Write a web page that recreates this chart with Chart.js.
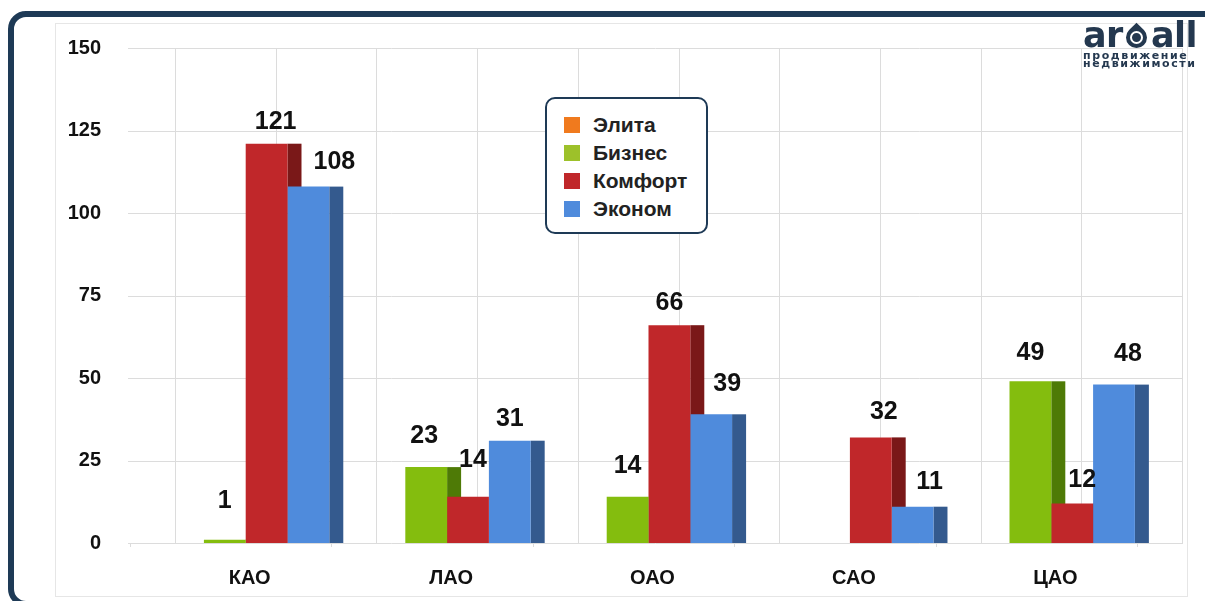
<!DOCTYPE html>
<html>
<head>
<meta charset="utf-8">
<script src="https://cdn.jsdelivr.net/npm/chart.js@4.4.1/dist/chart.umd.min.js"></script>
<style>
  html, body { margin: 0; padding: 0; background: #fff; }
  #wrap { position: relative; width: 1205px; height: 601px; overflow: hidden; background: #fff; }
  #frame { position: absolute; left: 8px; top: 11px; width: 1260px; height: 584px; border: 6px solid #1e3a56; border-radius: 18px; }
  #panel { position: absolute; left: 55px; top: 23px; width: 1131px; height: 572px; border: 1px solid #e6e6e6; }
  #chart { position: absolute; left: 0; top: 0; }
  #legend { position: absolute; left: 545px; top: 97px; width: 159px; height: 121px; border: 2.5px solid #1e3a56; border-radius: 10px; background: #fff; padding-top: 12px; box-sizing: content-box; }
  #legend .row { display: flex; align-items: center; height: 28px; font: bold 21px "Liberation Sans", Arial, sans-serif; color: #222; }
  #legend .sw { width: 16px; height: 16px; margin-left: 17px; margin-right: 13px; }
  #logo { position: absolute; left: 1083px; top: 18px; color: #24384f; font-family: "DejaVu Sans", sans-serif; }
  #logo .big { font-weight: bold; font-size: 35px; letter-spacing: -0.5px; line-height: 34px; white-space: nowrap; }
  #logo .drop { display: inline-block; width: 21px; height: 21px; background: #24384f; border-radius: 0 50% 50% 50%; transform: rotate(45deg); margin: 0 4px 0 3px; position: relative; top: 1px; }
  #logo .drop::after { content: ""; position: absolute; left: 4px; top: 4px; width: 9px; height: 9px; border: 2px solid #fff; border-radius: 50%; }
  #logo .small { font-weight: bold; font-size: 11px; line-height: 8px; letter-spacing: 1.6px; white-space: nowrap; }
</style>
</head>
<body>
<div id="wrap">
  <div id="frame"></div>
  <div id="panel"></div>
  <canvas id="chart" width="1205" height="601"></canvas>
  <div id="legend"></div>
  <div id="logo">
    <div class="big">ar<span class="drop"></span>all</div>
    <div class="small">продвижение</div>
    <div class="small">недвижимости</div>
  </div>
</div>
<script>
const categories = ["КАО", "ЛАО", "ОАО", "САО", "ЦАО"];
const seriesNames = ["Элита", "Бизнес", "Комфорт", "Эконом"];
const seriesColors = ["#f07a1e", "#84bd0e", "#c0272a", "#4f8bdc"];
const sideColors = ["#a84f10", "#4e7a06", "#7a1818", "#345a8e"];
const legendColors = ["#f07a1e", "#9dc12a", "#c0272a", "#4f8bdc"];
const eliteValues = [0, 0, 0, 0, 0];
const businessValues = [1, 23, 14, 0, 49];
const comfortValues = [121, 14, 66, 32, 12];
const economyValues = [108, 31, 39, 11, 48];
const yTicks = [0, 25, 50, 75, 100, 125, 150];

const seriesValues = [eliteValues, businessValues, comfortValues, economyValues];
const DEPTH = 14;
const WALL = 30;

// hand-placed value labels (x nudge / gap above bar, px), as in the original
const labelDx = [
  [0, 0, 0, 0, 0],
  [0, -2, 0, 0, 0],
  [9, 5, 0, 13, 10],
  [26, 0, 16, 17, 14],
];
const labelGap = [
  [0, 0, 0, 0, 0],
  [32, 24, 24, 0, 21],
  [15, 30, 15, 18, 16],
  [18, 15, 23, 18, 24],
];

// legend box
const legendBox = document.querySelector("#legend");
seriesNames.forEach((name, i) => {
  const row = document.createElement("div");
  row.className = "row";
  row.innerHTML = `<span class="sw" style="background:${legendColors[i]}"></span><span>${name}</span>`;
  legendBox.appendChild(row);
});

const depthPlugin = {
  id: "depth3d",
  beforeDatasetsDraw(chart) {
    const { ctx, chartArea, scales } = chart;
    const x = scales.x;
    const y = scales.y;
    ctx.save();
    ctx.strokeStyle = "#dcdcdc";
    ctx.lineWidth = 1;
    // horizontal grid
    y.ticks.forEach((t) => {
      const py = Math.round(y.getPixelForValue(t.value)) + 0.5;
      ctx.beginPath();
      ctx.moveTo(chartArea.left - 17, py);
      ctx.lineTo(chartArea.right + 31, py);
      ctx.stroke();
    });
    // back wall vertical grid
    const half = (x.getPixelForValue(1) - x.getPixelForValue(0)) / 2;
    for (let i = 0; i < categories.length; i++) {
      const c = x.getPixelForValue(i);
      [c - half + WALL, c + WALL].forEach((px) => {
        ctx.beginPath();
        ctx.moveTo(Math.round(px) + 0.5, chartArea.top);
        ctx.lineTo(Math.round(px) + 0.5, chartArea.bottom);
        ctx.stroke();
      });
    }
    const last = x.getPixelForValue(categories.length - 1) + half + WALL;
    ctx.beginPath();
    ctx.moveTo(Math.round(last) + 0.5, chartArea.top);
    ctx.lineTo(Math.round(last) + 0.5, chartArea.bottom);
    ctx.stroke();
    // small tick marks under the floor
    for (let i = 0; i <= categories.length; i++) {
      const px = Math.round(x.getPixelForValue(0) - half + i * 2 * half - 15) + 0.5;
      ctx.beginPath();
      ctx.moveTo(px, chartArea.bottom);
      ctx.lineTo(px, chartArea.bottom + 4);
      ctx.stroke();
    }
    // side faces of bars
    chart.data.datasets.forEach((ds, di) => {
      const meta = chart.getDatasetMeta(di);
      meta.data.forEach((bar, j) => {
        if (!ds.data[j]) return;
        ctx.fillStyle = sideColors[di];
        ctx.fillRect(bar.x + bar.width / 2, bar.y, DEPTH, bar.base - bar.y);
      });
    });
    ctx.restore();
  },
  afterDatasetsDraw(chart) {
    const { ctx } = chart;
    ctx.save();
    ctx.font = 'bold 25px "Liberation Sans", Arial, sans-serif';
    ctx.fillStyle = "#111";
    ctx.textAlign = "center";
    ctx.textBaseline = "alphabetic";
    chart.data.datasets.forEach((ds, di) => {
      const meta = chart.getDatasetMeta(di);
      meta.data.forEach((bar, j) => {
        if (!ds.data[j]) return;
        ctx.fillText(String(ds.data[j]), bar.x + labelDx[di][j], bar.y - labelGap[di][j]);
      });
    });
    ctx.restore();
  },
};

new Chart(document.querySelector("#chart"), {
  type: "bar",
  data: {
    labels: categories,
    datasets: seriesNames.map((name, i) => ({
      label: name,
      data: seriesValues[i],
      backgroundColor: seriesColors[i],
      borderWidth: 0,
      categoryPercentage: 0.83,
      barPercentage: 1,
    })),
  },
  options: {
    responsive: false,
    animation: false,
    devicePixelRatio: 1,
    layout: { padding: { top: 47, right: 53, left: 0, bottom: 0 } },
    plugins: { legend: { display: false }, tooltip: { enabled: false } },
    scales: {
      x: {
        grid: { display: false },
        border: { display: false },
        ticks: {
          color: "#111",
          font: { family: '"Liberation Sans", Arial, sans-serif', size: 20, weight: "bold" },
          padding: 15,
          labelOffset: 4,
        },
        afterFit(scale) { scale.height = 58; },
      },
      y: {
        min: 0,
        max: 150,
        grid: { display: false },
        border: { display: false },
        afterBuildTicks(scale) { scale.ticks = yTicks.map((v) => ({ value: v })); },
        ticks: {
          color: "#111",
          font: { family: '"Liberation Sans", Arial, sans-serif', size: 20, weight: "bold" },
          padding: 36,
        },
        afterFit(scale) { scale.width = 145; },
      },
    },
  },
  plugins: [depthPlugin],
});
</script>
</body>
</html>
